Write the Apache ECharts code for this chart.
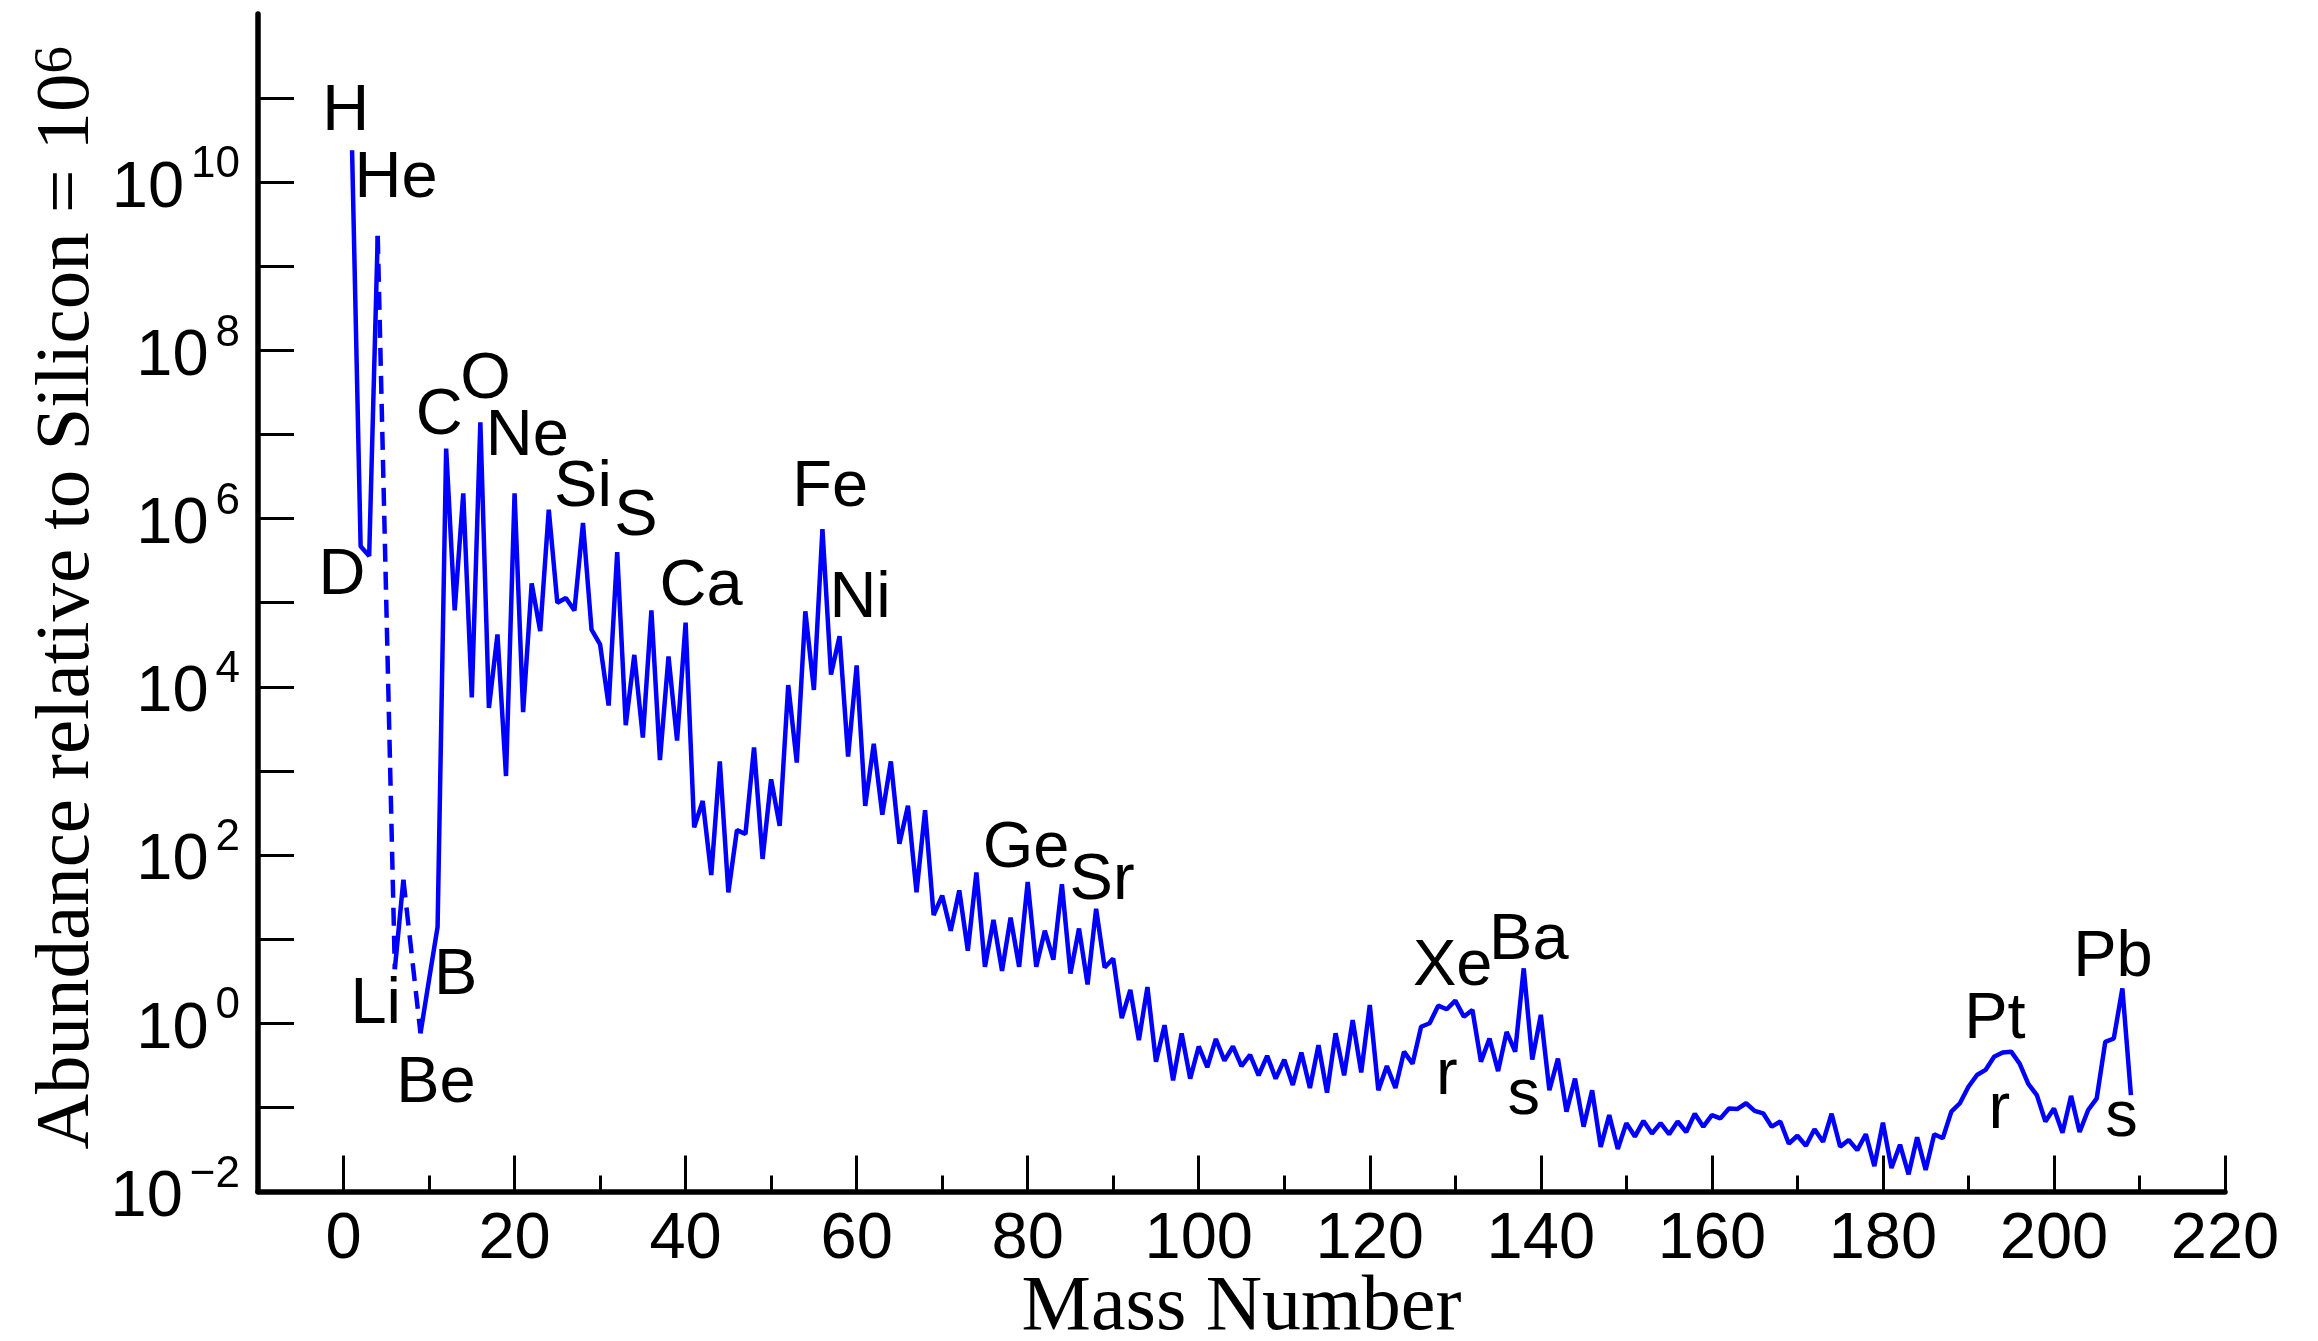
<!DOCTYPE html>
<html>
<head>
<meta charset="utf-8">
<script src="https://cdn.jsdelivr.net/npm/echarts@6/dist/echarts.min.js"></script>
<style>
html, body { margin: 0; padding: 0; background: #fff; }
#chart { width: 2318px; height: 1341px; }
</style>
</head>
<body>
<div id="chart"></div>
<script>
// ---- data ----
const massStart = 1; // abundance[i] belongs to mass number massStart + i
const abundance = [
  2.4e10, 4.7e5, 3.6e5, 2.3e9, null, 4.4, 51, null, 0.76, 3.3,            // 1-10
  14, 6.8e6, 8.1e4, 2.0e6, 7.5e3, 1.4e7, 5.6e3, 4.2e4, 870, 2.0e6,          // 11-20
  5.0e3, 1.7e5, 4.6e4, 1.28e6, 1.0e5, 1.14e5, 8.1e4, 8.9e5, 4.8e4, 3.2e4,   // 21-30
  6.0e3, 4.0e5, 3.5e3, 2.4e4, 2.5e3, 8.1e4, 1.35e3, 2.3e4, 2.3e3, 5.8e4,    // 31-40
  214, 440, 58, 1.3e3, 36, 198, 178, 1.9e3, 90, 795,                        // 41-50
  222, 1.05e4, 1.26e3, 7.9e4, 9.2e3, 7.5e5, 1.4e4, 4.0e4, 1.48e3, 1.8e4,    // 51-60
  385, 2.1e3, 302, 1.3e3, 136, 385, 36, 341, 19.3, 33,                      // 61-70
  12.6, 38, 7.3, 62, 4.7, 17, 4.2, 18, 4.7, 48,                             // 71-80
  4.7, 12.6, 5.7, 45, 3.9, 13.4, 2.9, 23, 4.6, 5.9,                         // 81-90
  1.15, 2.5, 0.63, 2.7, 0.35, 0.95, 0.21, 0.76, 0.22, 0.53,                 // 91-100
  0.30, 0.65, 0.36, 0.53, 0.31, 0.42, 0.24, 0.41, 0.22, 0.37,               // 101-110
  0.185, 0.45, 0.17, 0.55, 0.15, 0.76, 0.24, 1.09, 0.26, 1.65,              // 111-120
  0.16, 0.31, 0.17, 0.46, 0.33, 0.91, 1.0, 1.62, 1.47, 1.86,                // 121-130
  1.2, 1.44, 0.35, 0.66, 0.27, 0.79, 0.46, 4.5, 0.37, 1.26,                 // 131-140
  0.16, 0.38, 0.089, 0.22, 0.059, 0.16, 0.034, 0.081, 0.032, 0.065,         // 141-150
  0.045, 0.069, 0.049, 0.065, 0.048, 0.068, 0.051, 0.084, 0.059, 0.081,     // 151-160
  0.074, 0.097, 0.096, 0.112, 0.091, 0.085, 0.059, 0.068, 0.037, 0.046,     // 161-170
  0.035, 0.055, 0.039, 0.084, 0.034, 0.041, 0.031, 0.048, 0.020, 0.066,     // 171-180
  0.019, 0.036, 0.016, 0.044, 0.018, 0.048, 0.043, 0.089, 0.112, 0.176,     // 181-190
  0.243, 0.279, 0.40, 0.45, 0.46, 0.33, 0.19, 0.14, 0.068, 0.097,           // 191-200
  0.050, 0.137, 0.051, 0.093, 0.128, 0.60, 0.66, 2.6, 0.14                  // 201-209
];
// mass numbers with no stable nuclide, bridged by dashed lines
const gapMasses = [5, 8];

// element annotations: [text, mass number, abundance] (anchor = text centre)
const labelAnchors = [
  ['H', 0.27, 6.9e10], ['He', 6.15, 1.1e10], ['D', -0.18, 2.1e5],
  ['C', 11.2, 1.66e7], ['O', 16.6, 4.5e7], ['Ne', 21.5, 9.3e6],
  ['Si', 28.0, 2.3e6], ['S', 34.2, 1.05e6], ['Ca', 41.8, 1.55e5],
  ['Fe', 56.9, 2.3e6], ['Ni', 60.4, 1.12e5], ['Ge', 79.8, 117],
  ['Sr', 88.7, 49], ['Li', 3.76, 1.66], ['Be', 10.8, 0.19], ['B', 13.1, 3.6],
  ['Xe', 129.7, 4.7], ['r', 129.0, 0.234], ['Ba', 138.6, 9.5], ['s', 138.0, 0.138],
  ['Pt', 193.1, 1.1], ['r', 193.6, 0.093], ['Pb', 206.9, 5.9], ['s', 207.9, 0.074]
];

// axis ticks
const xMajorTicks = [0, 20, 40, 60, 80, 100, 120, 140, 160, 180, 200, 220];
const xMinorTicks = [10, 30, 50, 70, 90, 110, 130, 150, 170, 190, 210];
const yTicks = [1e-2, 1e-1, 1e0, 1e1, 1e2, 1e3, 1e4, 1e5, 1e6, 1e7, 1e8, 1e9, 1e10, 1e11];
const yLabels = [1e-2, 1e0, 1e2, 1e4, 1e6, 1e8, 1e10];

// ---- build series ----
const BLUE = '#0000ff';
const mainData = abundance.map((v, i) => [massStart + i, v == null ? '-' : v]);
const valAt = m => abundance[m - massStart];
const dashedSeries = gapMasses.map(g => ({
  type: 'line',
  data: [[g - 1, valAt(g - 1)], [g + 1, valAt(g + 1)]],
  showSymbol: false,
  symbol: 'none',
  lineStyle: { color: BLUE, width: 4.5, type: [18, 10] },
  z: 3
}));

const SANS = '"Liberation Sans", Arial, Helvetica, sans-serif';
const SERIF = '"Liberation Serif", "Times New Roman", serif';
const BLACK = '#000';

const chart = echarts.init(document.getElementById('chart'), null, { renderer: 'canvas' });
chart.setOption({
  animation: false,
  backgroundColor: '#ffffff',
  grid: { left: 258, right: 93, top: 14, bottom: 149.5, containLabel: false, outerBoundsMode: 'none' },
  xAxis: [{
    type: 'value', min: -10, max: 220, position: 'bottom',
    axisLine: { show: true, onZero: false, lineStyle: { color: BLACK, width: 5.5 } },
    axisTick: { show: true, inside: true, length: 16, customValues: xMinorTicks,
                lineStyle: { color: BLACK, width: 3 } },
    axisLabel: { show: false },
    splitLine: { show: false }
  }, {
    type: 'value', min: -10, max: 220, position: 'bottom', offset: 0,
    axisLine: { show: false, onZero: false },
    axisTick: { show: true, inside: true, length: 36, customValues: xMajorTicks,
                lineStyle: { color: BLACK, width: 3 } },
    axisLabel: { show: true, customValues: xMajorTicks, margin: 16,
                 fontSize: 65, fontFamily: SANS, color: BLACK, lineHeight: 65 },
    splitLine: { show: false },
    name: 'Mass Number', nameLocation: 'middle', nameGap: 78, nameMoveOverlap: false,
    nameTextStyle: { fontFamily: SERIF, fontSize: 78, color: BLACK, lineHeight: 78 }
  }],
  yAxis: {
    type: 'log', logBase: 10, min: 1e-2, max: 1e12,
    axisLine: { show: true, onZero: false, lineStyle: { color: BLACK, width: 5.5 } },
    axisTick: { show: true, inside: true, length: 36, customValues: yTicks,
                lineStyle: { color: BLACK, width: 3 } },
    axisLabel: {
      show: true, customValues: yLabels, margin: 18,
      formatter: function (v) {
        const e = Math.round(Math.log10(v));
        return '{z| }{b|10}{s|' + (e < 0 ? '\u2212' + (-e) : e) + '}';
      },
      rich: {
        z: { fontSize: 1, lineHeight: 78 },
        b: { fontSize: 65, lineHeight: 65, verticalAlign: 'bottom', fontFamily: SANS, color: BLACK },
        s: { fontSize: 44, lineHeight: 49, verticalAlign: 'top', fontFamily: SANS,
             color: BLACK, padding: [0, 0, 0, 7] }
      }
    },
    splitLine: { show: false },
    name: '{t|Abundance relative to Silicon = 10}{s|6}',
    nameLocation: 'middle', nameRotate: 90, nameGap: 152, nameMoveOverlap: false,
    nameTextStyle: {
      padding: [0, 0, 0, 10],
      rich: {
        t: { fontFamily: SERIF, fontSize: 77, lineHeight: 77, color: BLACK },
        s: { fontFamily: SERIF, fontSize: 55, lineHeight: 29, verticalAlign: 'top', color: BLACK }
      }
    }
  },
  series: [{
    type: 'line',
    data: mainData,
    showSymbol: false,
    symbol: 'none',
    connectNulls: false,
    lineStyle: { color: BLUE, width: 4.5 },
    z: 4
  }].concat(dashedSeries, [{
    type: 'scatter',
    symbolSize: 1,
    data: labelAnchors.map(a => ({ name: a[0], value: [a[1], a[2]] })),
    label: { show: true, position: 'inside', formatter: '{b}', fontSize: 65,
             fontFamily: SANS, color: BLACK, opacity: 1, align: 'center', verticalAlign: 'middle' },
    itemStyle: { color: 'rgba(0,0,0,0)', opacity: 1 },
    emphasis: { disabled: true },
    silent: true,
    z: 5
  }])
});
</script>
</body>
</html>
